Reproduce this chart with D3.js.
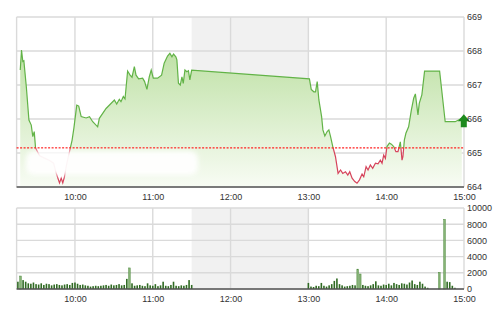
<!DOCTYPE html>
<html>
<head>
<meta charset="utf-8">
<script src="https://cdn.jsdelivr.net/npm/d3@7"></script>
<style>
  body { margin: 0; background: #fff; }
  svg { display: block; font-family: "Liberation Sans", Arial, sans-serif; }
</style>
</head>
<body>
<svg width="500" height="312"></svg>
<script>
// minutes after the 9:15 open
const priceTimes = [2.8, 3.8, 4.8, 5.6, 7.5, 9.5, 11.3, 12.5, 13.6, 14.6, 17.7, 21.5, 25.4, 28.5,
  30.5, 33.1, 34.4, 35.6, 36.9, 38.5, 40.8, 42.8, 44.2, 46.4, 47.9, 49.8, 53.6, 56.2, 58.7,
  62.5, 63.8, 69.0, 75.4, 77.2, 79.2, 80.5, 82.3, 83.6, 85.6, 87.5, 89.0, 90.8, 92.1, 94.1,
  97.2, 98.7, 100.5, 102.3, 103.8, 105.4, 108.7, 111.8, 113.8, 116.4, 118.2, 119.8, 121.0,
  122.8, 123.6, 124.8, 126.2, 127.5, 128.5, 129.8, 131.3, 132.5, 133.6, 135.0,
  225.8, 227.2, 229.2, 230.5, 231.8, 233.1, 235.2, 236.2, 237.7, 239.5,
  240.8, 242.1, 243.8, 245.9, 247.9, 249.8, 251.5, 253.6, 255.4, 256.9,
  258.7, 260.8, 262.5, 264.4, 266.4, 267.7, 269.5, 271.0, 272.8, 274.6,
  276.7, 278.7, 280.5, 281.8, 283.1, 284.4, 285.6, 287.5, 289.0, 290.8,
  292.5, 294.1, 295.9, 297.2, 297.9, 299.0, 300.2, 302.3, 304.4, 306.2,
  307.5, 309.5, 310.5, 312.5, 314.6, 326.2, 330.5, 338.2, 340.8, 343.3];
const prices = [667.44, 668.03, 667.69, 667.71, 666.95, 665.97, 665.82, 665.48, 665.63, 665.15,
  664.92, 664.85, 664.78, 664.70, 664.41, 664.12, 664.26, 664.12, 664.30,
  664.65, 665.04, 665.38, 665.74, 666.41, 666.38, 666.07, 666.03, 666.07, 665.92,
  665.77, 666.02, 666.31, 666.56, 666.44, 666.58, 666.51, 666.66, 666.59,
  667.41, 667.29, 667.23, 667.54, 667.29, 667.18, 667.20, 667.10, 666.87,
  667.24, 667.44, 667.20, 667.20, 667.29, 667.64, 667.85, 667.93, 667.83, 667.91,
  667.83, 667.74, 667.05, 667.00, 667.24, 667.05, 667.44, 667.39, 667.42, 667.15, 667.44,
  667.18, 666.87, 666.80, 666.80, 667.10, 666.56, 666.07, 665.68, 665.50, 665.63,
  665.68, 665.48, 665.19, 664.89, 664.40, 664.50, 664.40, 664.45, 664.35, 664.45,
  664.26, 664.16, 664.11, 664.21, 664.38, 664.30, 664.60, 664.50, 664.65, 664.55,
  664.70, 664.68, 664.79, 664.70, 664.94, 664.84, 665.19, 665.29, 665.26, 665.19,
  665.04, 665.04, 665.33, 664.79, 664.89, 665.38, 665.58, 665.77, 666.26, 666.61,
  666.74, 666.12, 666.46, 666.71, 667.41, 667.41, 665.92, 665.92, 665.97, 666.02];
const refPrice = 665.15;

// volume in 2-minute buckets, morning from 9:16, afternoon from 13:00
const volMorning = [900, 1600, 1100, 900, 700, 650, 800, 600, 550, 700, 500, 650, 600, 450, 550,
  600, 500, 450, 550, 600, 500, 750, 800, 650, 500, 550, 450, 400, 300, 350, 400, 350, 400, 450,
  500, 400, 550, 450, 500, 600, 450, 500, 1250, 2600, 700, 400, 450, 500, 400, 350, 700, 450,
  400, 600, 350, 450, 900, 400, 350, 500, 900, 400, 350, 450, 400, 500, 1100, 500];
const volAfternoon = [750, 300, 250, 400, 350, 750, 400, 300, 450, 600, 1000, 1300, 600, 450,
  300, 350, 400, 500, 450, 2450, 1850, 500, 400, 350, 450, 600, 950, 450, 400, 550, 500, 650,
  450, 750, 600, 500, 700, 650, 550, 800, 1050, 600, 500, 900, 650, 300];
const volCloseTimes = ["14:32", "14:41", "14:45", "14:47", "14:49", "14:51", "14:53"];
const volClose = [150, 2050, 8600, 900, 850, 400, 150];

const hourLabels = ["10:00", "11:00", "12:00", "13:00", "14:00", "15:00"];
const priceTicks = [664, 665, 666, 667, 668, 669];
const volTicks = [0, 2000, 4000, 6000, 8000, 10000];

const toMin = s => { const p = s.split(":"); return (+p[0] - 9) * 60 + (+p[1]) - 15; };

const x = d3.scaleLinear().domain([0, 345]).range([16.6, 464]);
const yP = d3.scaleLinear().domain([664, 669]).range([187, 17]);
const yV = d3.scaleLinear().domain([0, 10000]).range([289, 208]);

const svg = d3.select("svg");
const defs = svg.append("defs");
const grad = defs.append("linearGradient").attr("id", "fillG")
  .attr("gradientUnits", "userSpaceOnUse").attr("x1", 0).attr("x2", 0)
  .attr("y1", yP(668)).attr("y2", yP(664));
grad.append("stop").attr("offset", 0).attr("stop-color", "#bfe1a6");
grad.append("stop").attr("offset", 1).attr("stop-color", "#f8fcf4");
const refY = yP(refPrice);
defs.append("clipPath").attr("id", "above").append("rect")
  .attr("x", 0).attr("y", 0).attr("width", 500).attr("height", refY);
defs.append("clipPath").attr("id", "below").append("rect")
  .attr("x", 0).attr("y", refY).attr("width", 500).attr("height", 312 - refY);
defs.append("filter").attr("id", "blur").append("feGaussianBlur").attr("stdDeviation", 2.5);

function panel(y0, y1, gridVals, yScale) {
  const g = svg.append("g");
  g.append("rect").attr("x", x(135)).attr("y", y0).attr("width", x(225) - x(135))
    .attr("height", y1 - y0).attr("fill", "#f1f1f1");
  g.selectAll(".hg").data(gridVals).join("line")
    .attr("x1", x(0)).attr("x2", x(345))
    .attr("y1", d => yScale(d)).attr("y2", d => yScale(d))
    .attr("stroke", "#dadada").attr("stroke-width", 1.4);
  g.selectAll(".vg").data([0].concat(hourLabels.map(toMin))).join("line")
    .attr("x1", d => x(d)).attr("x2", d => x(d))
    .attr("y1", y0).attr("y2", y1)
    .attr("stroke", "#dadada").attr("stroke-width", 1.4);
  return g;
}

function styleText(g) {
  g.select(".domain").remove();
  g.selectAll("text").attr("font-size", 9).attr("fill", "#333")
    .attr("font-family", "Liberation Sans, Arial");
}

// price panel
panel(17, 187, priceTicks, yP);
const pts = priceTimes.map((t, i) => [t, prices[i]]);
svg.append("path").datum(pts)
  .attr("fill", "url(#fillG)")
  .attr("d", d3.area().x(d => x(d[0])).y0(yP(664)).y1(d => yP(d[1])));
const line = d3.line().x(d => x(d[0])).y(d => yP(d[1]));
svg.append("path").datum(pts).attr("clip-path", "url(#above)")
  .attr("fill", "none").attr("stroke", "#62b347").attr("stroke-width", 1.2).attr("d", line);
svg.append("path").datum(pts).attr("clip-path", "url(#below)")
  .attr("fill", "none").attr("stroke", "#d6445c").attr("stroke-width", 1.2).attr("d", line);
svg.append("line").attr("x1", x(0)).attr("x2", x(345)).attr("y1", refY).attr("y2", refY)
  .attr("stroke", "#ff2020").attr("stroke-width", 1.2).attr("stroke-dasharray", "2,1.5");

// whited-out patch in the original picture
svg.append("rect").attr("x", 26).attr("y", 151).attr("width", 172).attr("height", 24)
  .attr("rx", 8).attr("fill", "#fff").attr("opacity", 0.95).attr("filter", "url(#blur)");

svg.append("line").attr("x1", x(0)).attr("x2", x(345)).attr("y1", 187).attr("y2", 187)
  .attr("stroke", "#7a7a7a").attr("stroke-width", 2);

// last price arrow
const lx = x(priceTimes[priceTimes.length - 1]) + 2, ly = yP(prices[prices.length - 1]);
svg.append("path")
  .attr("d", `M${lx - 6},${ly + 3} L${lx},${ly - 4} L${lx + 6},${ly + 3} L${lx + 3},${ly + 3} L${lx + 3},${ly + 9} L${lx - 3},${ly + 9} L${lx - 3},${ly + 3} Z`)
  .attr("fill", "#1d8a1d");

svg.append("g").attr("transform", "translate(464,0)")
  .call(d3.axisRight(yP).tickValues(priceTicks).tickFormat(d3.format("d")).tickSize(0).tickPadding(3))
  .call(styleText);

const xAxis = d3.axisBottom(x).tickValues(hourLabels.map(toMin))
  .tickFormat((d, i) => hourLabels[i]).tickSize(0).tickPadding(5);
svg.append("g").attr("transform", "translate(0,189)").call(xAxis).call(styleText);

// volume panel
panel(208, 289, volTicks, yV);
const vols = [];
volMorning.forEach((v, i) => vols.push([1 + 2 * i, v]));
volAfternoon.forEach((v, i) => vols.push([225 + 2 * i, v]));
volCloseTimes.forEach((t, i) => vols.push([toMin(t), volClose[i]]));
svg.append("g").selectAll("rect").data(vols).join("rect")
  .attr("x", d => x(d[0]) - 0.8).attr("width", 1.6)
  .attr("y", d => yV(d[1])).attr("height", d => yV(0) - yV(d[1]))
  .attr("fill", d => d[1] > 1500 ? "#86b375" : "#2f6a22")
  .attr("stroke", d => d[1] > 1500 ? "#4f8a3e" : "none").attr("stroke-width", 0.5);
svg.append("line").attr("x1", x(0)).attr("x2", x(345)).attr("y1", 289).attr("y2", 289)
  .attr("stroke", "#555").attr("stroke-width", 1.6);

svg.append("g").attr("transform", "translate(464,0)")
  .call(d3.axisRight(yV).tickValues(volTicks).tickFormat(d3.format("d")).tickSize(0).tickPadding(3))
  .call(styleText);

svg.append("g").attr("transform", "translate(0,291)").call(xAxis).call(styleText);
</script>
</body>
</html>
